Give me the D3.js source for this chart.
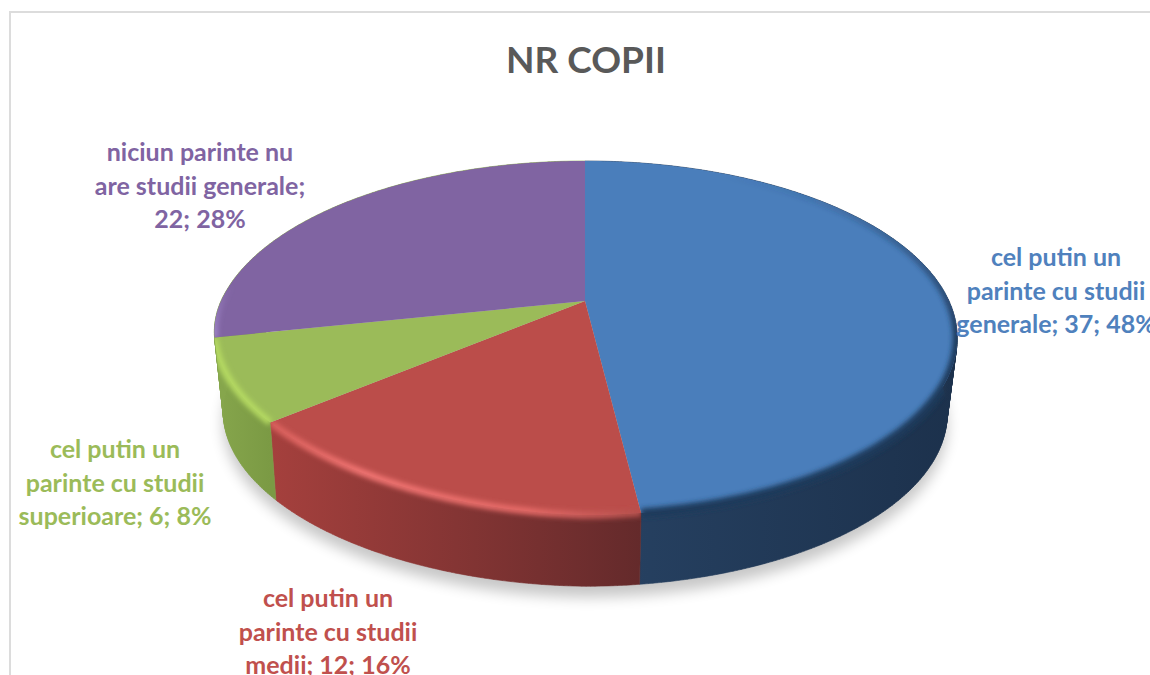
<!DOCTYPE html>
<html>
<head>
<meta charset="utf-8">
<style>
  html, body { margin: 0; padding: 0; background: #fff; overflow: hidden; }
  text { font-family: Lato, "Open Sans", sans-serif; font-weight: 700; }
</style>
<script src="https://cdn.jsdelivr.net/npm/d3@7"></script>
</head>
<body>
<svg id="chart"></svg>
<script>
var title = "NR COPII";
var values = [37, 12, 6, 22];
var percents = [48, 16, 8, 28];
var nameLines = [
  ["cel putin un", "parinte cu studii", "generale"],
  ["cel putin un", "parinte cu studii", "medii"],
  ["cel putin un", "parinte cu studii", "superioare"],
  ["niciun parinte nu", "are studii generale;", ""]
];
var topColors = ["#4a7ebb", "#bb4d4a", "#9bbb59", "#8064a2"];
var labelColors = ["#4f81bd", "#c0504d", "#9bbb59", "#8064a2"];
// the last wall only shows as a sliver at the left edge, next to the green one
var wallFrom = ["#274263", "#a5403d", "#86a64c", "#86a64c"];
var wallTo = ["#1c314c", "#642a2b", "#7b9a44", "#86a64c"];
var rimColors = ["#1f3a5c", "#f27573", "#b5da62", "#a58cd0"];
var rimFadeStart = [175, 0, 300, 285];
var rimFadeEnd = [340, 0, 345, 345];

var width = 1150, height = 675;
var cx = 585, apexY = 301;   // where the slices meet on screen
var persp = 0.209, ax = 364, az = 169.3;
var lift = 77, shrink = 0.973;
var labelX = [1056, 328, 115, 200];
var labelY = [266, 607, 458, 161];
var lineStep = 33.7;

var svg = d3.select("#chart").attr("width", width).attr("height", height)
  .style("display", "block");
var defs = svg.append("defs");

// disc point at pie angle a, level 0 is the top face and 1 the bottom one
function project(a, level) {
  var X = Math.sin(a), Z = -Math.cos(a), w = 1 - persp * Z;
  var s = level ? shrink : 1;
  // front left of the original sits a bit higher than a clean ellipse
  var bend = Math.max(0, -X) * Math.max(0, Z);
  return [
    cx + s * ax * X / w + (level ? 2 : 8) * bend,
    apexY + (level ? lift : 0) + s * az * Z / w - (level ? 6 : 14) * bend
  ];
}
function arcAngles(a0, a1) {
  var n = Math.max(2, Math.ceil((a1 - a0) / 0.01));
  return d3.range(n + 1).map(function (i) { return a0 + (a1 - a0) * i / n; });
}
var line = d3.line();
var slices = d3.pie().sort(null).value(function (d) { return d; })(values);

defs.append("filter").attr("id", "shadowBlur")
  .attr("x", "-10%").attr("y", "-10%").attr("width", "120%").attr("height", "120%")
  .append("feGaussianBlur").attr("stdDeviation", 7);
defs.append("filter").attr("id", "rimBlur")
  .attr("filterUnits", "userSpaceOnUse")
  .attr("x", 0).attr("y", 0).attr("width", width).attr("height", height)
  .append("feGaussianBlur").attr("stdDeviation", 2.4);

slices.forEach(function (s, i) {
  var xs = arcAngles(s.startAngle, s.endAngle).map(function (a) { return project(a, 0)[0]; });
  var g = defs.append("linearGradient").attr("id", "wall" + i)
    .attr("gradientUnits", "userSpaceOnUse")
    .attr("x1", d3.min(xs)).attr("x2", d3.max(xs))
    .attr("y1", 0).attr("y2", 0);
  g.append("stop").attr("offset", 0).attr("stop-color", wallFrom[i]);
  g.append("stop").attr("offset", 1).attr("stop-color", wallTo[i]);

  // rim fades out toward the back of the disc
  var r = defs.append("linearGradient").attr("id", "rim" + i)
    .attr("gradientUnits", "userSpaceOnUse")
    .attr("x1", 0).attr("x2", 0)
    .attr("y1", rimFadeStart[i]).attr("y2", rimFadeEnd[i]);
  r.append("stop").attr("offset", 0).attr("stop-color", rimColors[i]).attr("stop-opacity", 0);
  r.append("stop").attr("offset", 1).attr("stop-color", rimColors[i]).attr("stop-opacity", 1);
});

var allAngles = arcAngles(0, 2 * Math.PI);
// red highlight dies out toward the blue slice
var redRim = defs.append("linearGradient").attr("id", "redRim")
  .attr("gradientUnits", "userSpaceOnUse")
  .attr("x1", 270).attr("x2", 640).attr("y1", 0).attr("y2", 0);
redRim.append("stop").attr("offset", 0).attr("stop-color", "#d9605c");
redRim.append("stop").attr("offset", 0.25).attr("stop-color", "#f27573");
redRim.append("stop").attr("offset", 0.7).attr("stop-color", "#e56a67");
redRim.append("stop").attr("offset", 1).attr("stop-color", "#b5504d");

// frame
svg.append("path").attr("d", line([[10, height], [10, 12], [width, 12]]))
  .attr("fill", "none").attr("stroke", "#dcdcdc").attr("stroke-width", 2);

// shadow under the pie
svg.append("path")
  .attr("d", line(allAngles.map(function (a) {
    var p = project(a, 1);
    return [p[0], p[1] + 11];
  })) + "Z")
  .attr("fill", "#000").attr("opacity", 0.22)
  .attr("filter", "url(#shadowBlur)");

function wallPath(angles) {
  var d = "";
  d3.pairs(angles).forEach(function (q) {
    d += line([project(q[0], 0), project(q[1], 0), project(q[1], 1), project(q[0], 1)]) + "Z";
  });
  return d;
}

// side walls
slices.forEach(function (s, i) {
  svg.append("path").attr("d", wallPath(arcAngles(s.startAngle, s.endAngle)))
    .attr("fill", "url(#wall" + i + ")")
    .attr("stroke", "url(#wall" + i + ")").attr("stroke-width", 0.6);
});

// top faces with a soft bevel along the rim, the bevel spills onto the wall
slices.forEach(function (s, i) {
  var angles = arcAngles(s.startAngle, s.endAngle);
  var face = line([[cx, apexY]].concat(angles.map(function (a) { return project(a, 0); }))) + "Z";
  var clip = defs.append("clipPath").attr("id", "face" + i);
  clip.append("path").attr("d", face);
  clip.append("path").attr("d", i === 3 ? "" : wallPath(angles));
  svg.append("path").attr("d", face).attr("fill", topColors[i]);
  svg.append("g").attr("clip-path", "url(#face" + i + ")")
    .append("path")
    .attr("d", line(angles.map(function (a) { return project(a, 0); })))
    .attr("fill", "none")
    .attr("stroke", i === 1 ? "url(#redRim)" : "url(#rim" + i + ")")
    .attr("stroke-width", i === 0 ? 9 : 7)
    .attr("filter", "url(#rimBlur)");
});

// title
svg.append("text").attr("x", 586).attr("y", 73)
  .attr("text-anchor", "middle")
  .attr("font-size", 37).attr("fill", "#595959")
  .text(title);

// data labels
slices.forEach(function (s, i) {
  var lines = nameLines[i].map(function (t, j) {
    if (j < nameLines[i].length - 1) return t;
    return (t ? t + "; " : "") + values[i] + "; " + percents[i] + "%";
  });
  svg.append("g").selectAll("text").data(lines).join("text")
    .attr("x", labelX[i])
    .attr("y", function (d, j) { return labelY[i] + j * lineStep; })
    .attr("text-anchor", "middle")
    .attr("font-size", 25)
    .attr("fill", labelColors[i])
    .text(function (d) { return d; });
});
</script>
</body>
</html>
